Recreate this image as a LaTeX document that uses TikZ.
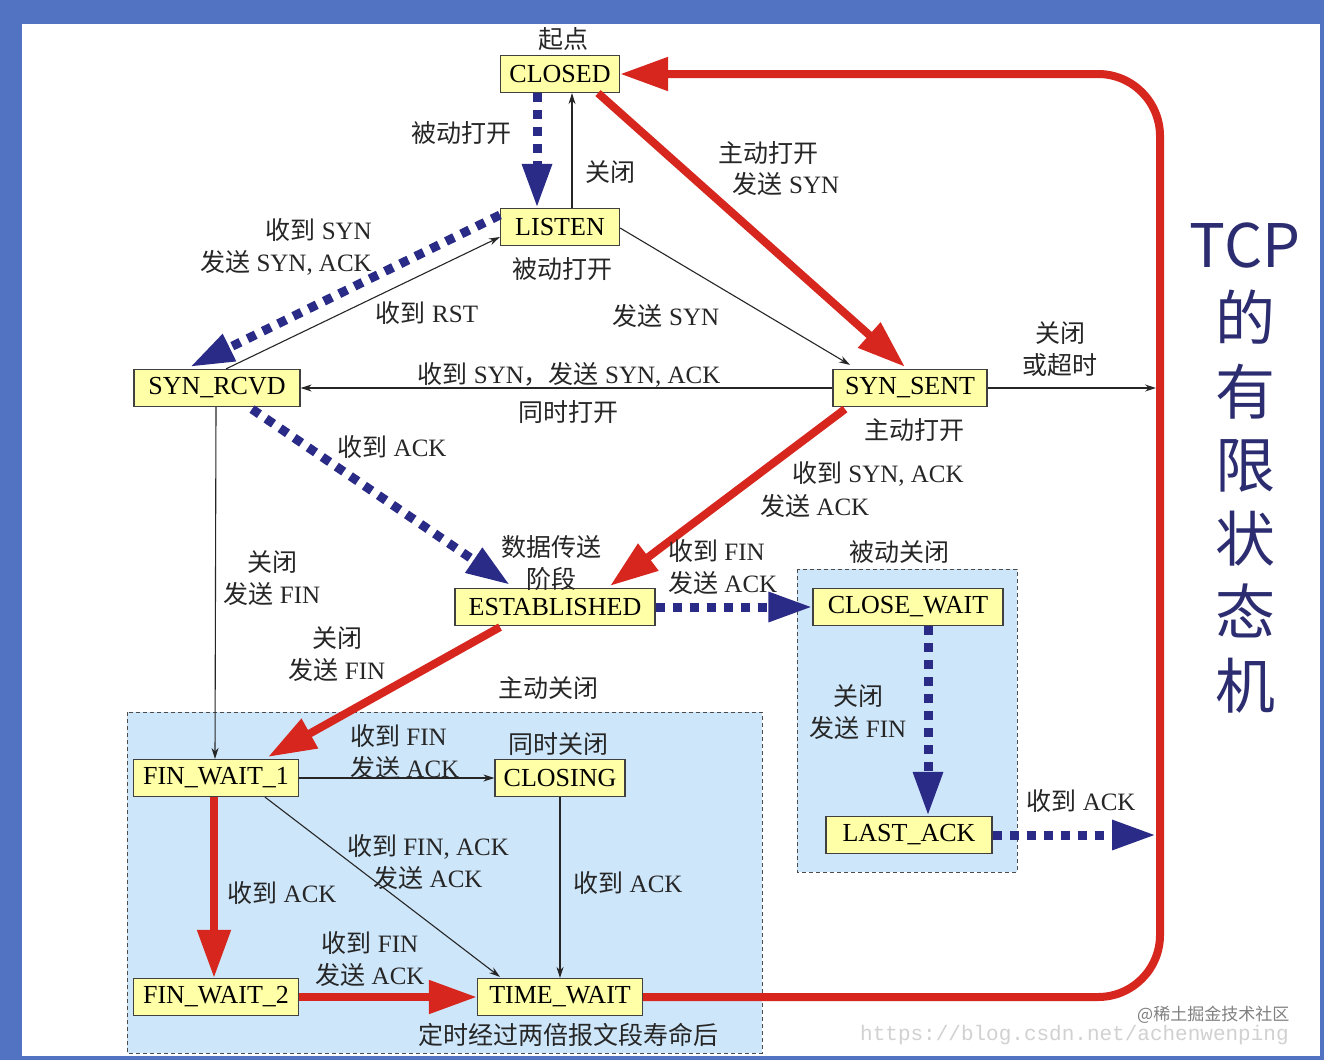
\documentclass[tikz,border=0pt]{standalone}
\usepackage{fontspec}
\setmainfont{Liberation Serif}
\newfontfamily\cjk{Noto Sans CJK SC}
\newfontfamily\wmono{Liberation Mono}
\newcommand\zhs[1]{{\cjk #1}}
\usetikzlibrary{arrows.meta,calc}
\definecolor{frameblue}{RGB}{82,114,194}
\definecolor{stfill}{RGB}{255,255,168}
\definecolor{regionfill}{RGB}{206,230,250}
\definecolor{tcpred}{RGB}{214,38,30}
\definecolor{navyc}{RGB}{42,42,135}
\definecolor{titlec}{RGB}{44,44,112}
\begin{document}
\begin{tikzpicture}[x=1pt,y=-1pt,
  state/.style={draw=black!75,line width=1.2pt,fill=stfill,minimum height=37pt,inner xsep=3pt,inner ysep=0pt,font=\fontsize{26}{30}\selectfont},
  lbl/.style={font=\fontsize{25}{32}\selectfont,inner sep=0pt,text=black!85},
  region/.style={draw=black!70,line width=1pt,dash pattern=on 4pt off 3pt,fill=regionfill},
  thin/.style={draw=black!85,line width=1.1pt,-{Stealth[length=11pt,width=7pt]}},
  redarrow/.style={draw=tcpred,line width=8pt,-{Triangle[length=48pt,width=32pt]}},
  navyarrow/.style={draw=navyc,line width=9pt,dash pattern=on 9pt off 8pt,-{Triangle[length=44pt,width=28pt]}}
]
\fill[frameblue] (0,0) rectangle (1324,1060);
\fill[white] (22,24) rectangle (1320,1056);
\useasboundingbox (0,0) rectangle (1324,1060);

% regions
\path[region] (127,712) rectangle (762,1053);
\path[region] (797,569) rectangle (1017,872);

% states
\node[state,minimum width=119pt] (closed) at (560,74) {CLOSED};
\node[state,minimum width=119pt] (listen) at (560,227) {LISTEN};
\node[state,minimum width=166pt] (rcvd) at (217,388) {SYN\_RCVD};
\node[state,minimum width=154pt] (sent) at (910,388) {SYN\_SENT};
\node[state,minimum width=200pt] (est) at (555,607) {ESTABLISHED};
\node[state,minimum width=190pt] (cw) at (908,607) {CLOSE\_WAIT};
\node[state,minimum width=166pt] (la) at (909,835) {LAST\_ACK};
\node[state,minimum width=165pt] (fw1) at (216,778) {FIN\_WAIT\_1};
\node[state,minimum width=130pt] (closing) at (560,778) {CLOSING};
\node[state,minimum width=165pt] (fw2) at (216,997) {FIN\_WAIT\_2};
\node[state,minimum width=165pt] (tw) at (560,997) {TIME\_WAIT};

\coordinate (ssend) at (1156,388);
\coordinate (laend) at (1156,835);
\coordinate (br) at (1160,997);
\coordinate (tr) at (1160,74);

% big red loop back to CLOSED
\draw[redarrow,rounded corners=62pt] (tw.east) -- (br) -- (tr) -- (closed.east);

% connectors
\draw[navyarrow] ($(closed.south)+(-23,0)$) -- ($(listen.north)+(-23,0)$);
\draw[thin] ($(listen.north)+(12,0)$) -- ($(closed.south)+(12,0)$);
\draw[redarrow] ($(closed.south)+(38,0)$) -- ($(sent.north)+(-5,-2)$);
\draw[navyarrow] ($(listen.west)+(0,-12)$) -- ($(rcvd.north)+(-27,-2)$);
\draw[thin] ($(rcvd.north)+(9,0)$) -- ($(listen.west)+(0,10)$);
\draw[thin] ($(listen.east)+(0,1)$) -- ($(sent.north)+(-60,-4)$);
\draw[thin] (sent.west) -- (rcvd.east);
\draw[thin] (sent.east) -- (ssend);
\draw[redarrow] ($(sent.south)+(-65,2)$) -- ($(est.north)+(55,-2)$);
\draw[navyarrow] ($(rcvd.south)+(35,2)$) -- ($(est.north)+(-45,-3)$);
\draw[thin] ($(rcvd.south)+(-1,0)$) -- ($(fw1.north)+(-1,0)$);
\draw[navyarrow] (est.east) -- (cw.west);
\draw[redarrow] ($(est.south)+(-55,1)$) -- ($(fw1.north)+(52,-2)$);
\draw[thin] (fw1.east) -- (closing.west);
\draw[thin] ($(fw1.south)+(49,0)$) -- ($(tw.north)+(-60,-1)$);
\draw[thin] (closing.south) -- (tw.north);
\draw[redarrow] ($(fw1.south)+(-2,0)$) -- ($(fw2.north)+(-2,0)$);
\draw[redarrow] (fw2.east) -- (tw.west);
\draw[navyarrow] ($(cw.south)+(20,0)$) -- ($(la.north)+(19,0)$);
\draw[navyarrow] (la.east) -- (laend);

% labels
\node[lbl] (l0) at (563,39) {\zhs{起点}};
\node[lbl] (l1) at (461,133) {\zhs{被动打开}};
\node[lbl] (l2) at (610,172) {\zhs{关闭}};
\node[lbl] (l3a) at (768,153) {\zhs{主动打开}};
\node[lbl] (l3b) at (786,184) {\zhs{发送} SYN};
\node[lbl,align=right,anchor=east] (l4) at (372,247) {\zhs{收到} SYN\\\zhs{发送} SYN, ACK};
\node[lbl] (l5) at (427,313) {\zhs{收到} RST};
\node[lbl] (l6) at (562,269) {\zhs{被动打开}};
\node[lbl] (l7) at (666,316) {\zhs{发送} SYN};
\node[lbl] (l8) at (569,375) {\zhs{收到} SYN\zhs{，发送} SYN, ACK};
\node[lbl] (l9) at (568,412) {\zhs{同时打开}};
\node[lbl,align=center] (l10) at (1060,349) {\zhs{关闭}\\\zhs{或超时}};
\node[lbl] (l11) at (914,430) {\zhs{主动打开}};
\node[lbl,anchor=west] (l12a) at (792,474) {\zhs{收到} SYN, ACK};
\node[lbl,anchor=west] (l12b) at (760,506) {\zhs{发送} ACK};
\node[lbl] (l13) at (392,447) {\zhs{收到} ACK};
\node[lbl,align=center] (l14) at (272,578) {\zhs{关闭}\\\zhs{发送} FIN};
\node[lbl,align=center] (l15) at (551,563) {\zhs{数据传送}\\\zhs{阶段}};
\node[lbl,align=left,anchor=west] (l16) at (668,567) {\zhs{收到} FIN\\\zhs{发送} ACK};
\node[lbl] (l17) at (899,552) {\zhs{被动关闭}};
\node[lbl,align=center] (l18) at (337,654) {\zhs{关闭}\\\zhs{发送} FIN};
\node[lbl] (l19) at (548,688) {\zhs{主动关闭}};
\node[lbl,align=left,anchor=west] (l20) at (350,752) {\zhs{收到} FIN\\\zhs{发送} ACK};
\node[lbl] (l21) at (558,744) {\zhs{同时关闭}};
\node[lbl,align=center] (l22) at (428,862) {\zhs{收到} FIN, ACK\\\zhs{发送} ACK};
\node[lbl] (l23) at (628,883) {\zhs{收到} ACK};
\node[lbl] (l24) at (282,893) {\zhs{收到} ACK};
\node[lbl,align=center] (l25) at (370,959) {\zhs{收到} FIN\\\zhs{发送} ACK};
\node[lbl] (l26) at (568,1035) {\zhs{定时经过两倍报文段寿命后}};
\node[lbl,align=center] (l27) at (858,712) {\zhs{关闭}\\\zhs{发送} FIN};
\node[lbl] (l28) at (1081,801) {\zhs{收到} ACK};

% title
\node[font=\cjk\fontsize{60}{73.5}\selectfont,text=titlec,align=center,inner sep=0pt] (title) at (1245,468) {TCP\\的\\有\\限\\状\\态\\机};

% watermark
\node[font=\wmono\fontsize{21}{24}\selectfont,text=black!18,anchor=west,inner sep=0pt] (wm1) at (860,1035) {https://blog.csdn.net/achenwenping};
\node[font=\cjk\fontsize{17}{20}\selectfont,text=black!50,anchor=west,inner sep=0pt] (wm2) at (1137,1015) {@稀土掘金技术社区};
\end{tikzpicture}
\end{document}
